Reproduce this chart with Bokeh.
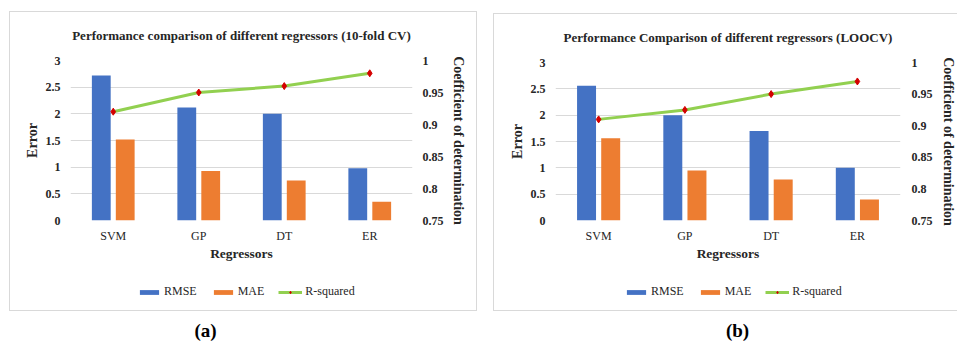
import math
from bokeh.plotting import figure
from bokeh.layouts import row, column
from bokeh.models import (ColumnDataSource, LinearAxis, Range1d, FixedTicker, Legend,
                          Label, Title)
from bokeh.transform import dodge
from bokeh.embed import file_html
from bokeh.resources import INLINE

# ---------------- data ----------------
regressors = ["SVM", "GP", "DT", "ER"]

rmse_10fold = [2.72, 2.12, 2.0, 0.98]
mae_10fold = [1.52, 0.93, 0.75, 0.35]
r2_10fold = [0.92, 0.95, 0.96, 0.98]

rmse_loocv = [2.56, 2.0, 1.7, 1.0]
mae_loocv = [1.56, 0.95, 0.78, 0.4]
r2_loocv = [0.91, 0.925, 0.95, 0.97]

error_ticks = [0, 0.5, 1, 1.5, 2, 2.5, 3]
error_tick_labels = ["0", "0.5", "1", "1.5", "2", "2.5", "3"]
r2_ticks = [0.75, 0.8, 0.85, 0.9, 0.95, 1.0]
r2_tick_labels = ["0.75", "0.8", "0.85", "0.9", "0.95", "1"]
series_names = ["RMSE", "MAE", "R-squared"]

title_a = "Performance comparison of different regressors (10-fold CV)"
title_b = "Performance Comparison of different regressors (LOOCV)"

# ---------------- style ----------------
FONT = "Liberation Serif"
BLUE = "#4472C4"
ORANGE = "#ED7D31"
GREEN = "#92D050"
RED = "#D40000"
GRID = "#D9D9D9"
TXT = "#262626"
BORDER = "1px solid #D9D9D9"


def make_chart(title, src, width, height, fl, fr, ft, fb,
               right_standoff, right_label_standoff, css):
    p = figure(x_range=regressors, y_range=Range1d(0, 3),
               width=width, height=height,
               min_border_left=fl, min_border_right=fr, min_border_top=ft,
               min_border_bottom=fb, toolbar_location=None, output_backend="svg")
    p.styles = css
    p.outline_line_color = None
    p.background_fill_color = "white"
    p.border_fill_color = "white"

    p.title = Title(text=title, align="center", vertical_align="top", text_font=FONT,
                    text_font_size="13px", text_font_style="bold",
                    text_color=TXT, standoff=31)

    p.extra_y_ranges = {"r2": Range1d(0.75, 1.0)}

    p.vbar(x=dodge("cat", -0.14, range=p.x_range), top="rmse", width=0.22,
           source=src, fill_color=BLUE, line_color=None)
    p.vbar(x=dodge("cat", 0.14, range=p.x_range), top="mae", width=0.22,
           source=src, fill_color=ORANGE, line_color=None)
    p.line(x="cat", y="r2", source=src, y_range_name="r2",
           line_color=GREEN, line_width=3)
    p.scatter(x="cat", y="r2", source=src, y_range_name="r2",
              marker="diamond", size=7, fill_color=RED, line_color=RED)

    ya = p.yaxis[0]
    ya.ticker = FixedTicker(ticks=error_ticks)
    ya.major_label_overrides = {t: l for t, l in zip(error_ticks, error_tick_labels)}
    ya.axis_label = "Error"
    ra = LinearAxis(y_range_name="r2", ticker=FixedTicker(ticks=r2_ticks))
    ra.major_label_overrides = {t: l for t, l in zip(r2_ticks, r2_tick_labels)}
    ra.axis_label = "Coefficient of determination"
    p.add_layout(ra, "right")

    for ax in (ya, ra, p.xaxis[0]):
        ax.axis_line_color = None
        ax.major_tick_line_color = None
        ax.minor_tick_line_color = None
        ax.major_tick_out = 0
        ax.major_tick_in = 0
        ax.minor_tick_out = 0
        ax.minor_tick_in = 0
        ax.major_label_text_font = FONT
        ax.major_label_text_font_size = "12px"
        ax.major_label_text_color = TXT
        ax.axis_label_text_font = FONT
        ax.axis_label_text_font_style = "bold"
        ax.axis_label_text_color = TXT

    for ax in (ya, ra):
        ax.major_label_text_font_style = "bold"
        ax.axis_label_text_font_size = "14px"
    ya.major_label_standoff = 10
    ya.axis_label_standoff = 3
    ra.major_label_standoff = right_standoff
    ra.axis_label_standoff = right_label_standoff

    xa = p.xaxis[0]
    xa.major_label_standoff = 8
    xa.axis_label = "Regressors"
    xa.axis_label_text_font_size = "13.5px"
    xa.axis_label_standoff = 0

    p.xgrid.grid_line_color = None
    p.ygrid.grid_line_color = GRID
    p.ygrid.grid_line_width = 1
    p.ygrid.ticker = FixedTicker(ticks=error_ticks)
    return p


def make_legend_strip(src, width, height, lx, ly, css):
    # the series are drawn here far outside the visible range; only the legend shows
    q = figure(width=width, height=height, x_range=regressors, y_range=Range1d(50, 60),
               x_axis_location=None, y_axis_location=None, toolbar_location=None,
               output_backend="svg", min_border=0)
    q.styles = css
    q.grid.grid_line_color = None
    q.outline_line_color = None
    r1 = q.vbar(x="cat", top="rmse", bottom="rmse", width=0.22, source=src,
                fill_color=BLUE, line_color=None)
    r2 = q.vbar(x="cat", top="mae", bottom="mae", width=0.22, source=src,
                fill_color=ORANGE, line_color=None)
    r3 = q.line(x="cat", y="r2", source=src, line_color=GREEN, line_width=3)
    r4 = q.scatter(x="cat", y="r2", source=src, marker="diamond", size=7,
                   fill_color=RED, line_color=RED)
    legend = Legend(items=[(series_names[0], [r1]), (series_names[1], [r2]),
                           (series_names[2], [r3, r4])],
                    orientation="horizontal", location=(lx, ly),
                    label_text_font=FONT, label_text_font_size="12px",
                    label_text_color=TXT, glyph_width=24, glyph_height=6,
                    label_height=14, label_standoff=3, spacing=14, padding=0,
                    margin=0, border_line_color=None, background_fill_alpha=0)
    q.add_layout(legend, "center")
    return q


def make_caption(text, width, height, cx, cy):
    c = figure(width=width, height=height, x_range=Range1d(0, 1),
               y_range=Range1d(0, 1), x_axis_location=None, y_axis_location=None,
               toolbar_location=None, output_backend="svg", min_border=0)
    c.grid.grid_line_color = None
    c.outline_line_color = None
    c.add_layout(Label(x=cx, y=cy, x_units="screen", y_units="screen",
                       text=text, text_align="center", text_baseline="middle",
                       text_font=FONT, text_font_size="19px", text_font_style="bold",
                       text_color="black"))
    return c


top_full = {"border-top": BORDER, "border-left": BORDER, "border-right": BORDER,
            "box-sizing": "border-box"}
bot_full = {"border-bottom": BORDER, "border-left": BORDER, "border-right": BORDER,
            "box-sizing": "border-box"}
top_cut = {"border-top": BORDER, "border-left": BORDER, "box-sizing": "border-box"}
bot_cut = {"border-bottom": BORDER, "border-left": BORDER, "box-sizing": "border-box"}

src_a = ColumnDataSource(dict(cat=regressors, rmse=rmse_10fold, mae=mae_10fold, r2=r2_10fold))
src_b = ColumnDataSource(dict(cat=regressors, rmse=rmse_loocv, mae=mae_loocv, r2=r2_loocv))

pa = make_chart(title_a, src_a, 468, 257, 60, 66, 47, 49, 10, 4, top_full)
pb = make_chart(title_b, src_b, 464, 255, 61, 57, 46, 49, 11, 5, top_cut)

la = make_legend_strip(src_a, 468, 43, 67, 12, bot_full)
lb = make_legend_strip(src_b, 464, 43, 69, 12, bot_cut)

ca = make_caption("(a)", 468, 30, 136, 11)
cb = make_caption("(b)", 464, 30, 183, 11)

col_a = column(pa, la, ca, spacing=0)
col_a.margin = (11, 0, 0, 9)
col_b = column(pb, lb, cb, spacing=0)
col_b.margin = (13, 0, 0, 16)
layout = row(col_a, col_b, spacing=0)

open("out.html", "w").write(file_html(layout, INLINE))
